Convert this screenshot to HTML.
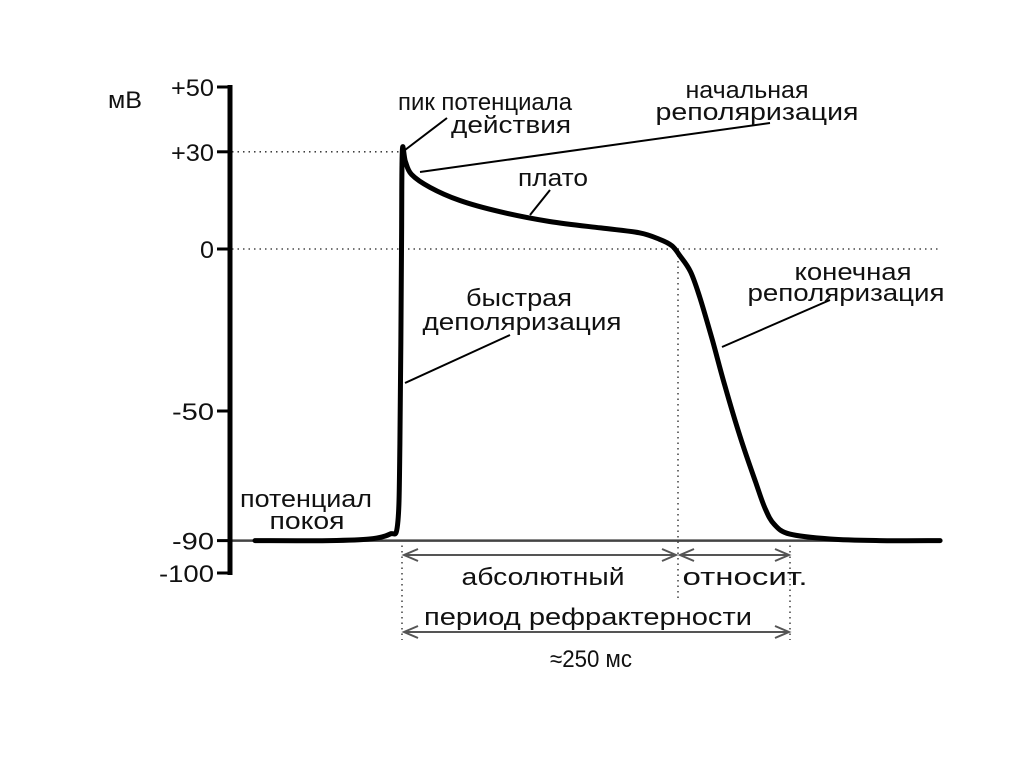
<!DOCTYPE html>
<html><head><meta charset="utf-8"><style>
html,body{margin:0;padding:0;background:#fff;}
svg{display:block;font-family:"Liberation Sans","DejaVu Sans",sans-serif;}
</style></head><body>
<svg id="chart" width="1024" height="767" viewBox="0 0 1024 767">
</svg>
<script>
const timeMs=[0,48,74,87,92,93.5,94.5,95,97,101,113,132,158,190,223,248,261,269,274,281,287,295,303,313,323,329,335,345,371,403,442];
const voltageMv=[-90,-90,-89.5,-88,-85,-60,0,30,27,23,19,15,11.5,8.5,6.5,5,3,1,-2,-7,-15,-28,-42,-58,-72,-80,-85,-88,-89.5,-90,-90];
const tickValues=[50,30,0,-50,-90,-100];
const tickLabels=["+50","+30","0","-50","-90","-100"];
const NS="http://www.w3.org/2000/svg";
const svg=document.getElementById('chart');
function yS(v){return 249-v*3.24;}
function xS(t){return 255+t*1.55;}
function el(tag,attrs,parent){const e=document.createElementNS(NS,tag);for(const k in attrs)e.setAttribute(k,attrs[k]);(parent||svg).appendChild(e);return e;}
function txt(s,x,y,anchor,name,size,w){const t=el('text',{x:x,y:y,'text-anchor':anchor||'middle','font-size':size||24,fill:'#111'});t.textContent=s;
if(w){t.setAttribute('textLength',w);t.setAttribute('lengthAdjust','spacingAndGlyphs');}


return t;}
const dots=[[232,yS(30),402,yS(30)],[232,yS(0),940,yS(0)],[402,540,402,640],[678,250,678,600],[790,540,790,640]];
dots.forEach(d=>{const l=el('line',{x1:d[0],y1:d[1],x2:d[2],y2:d[3],stroke:'#222','stroke-width':1.3,'stroke-dasharray':'1.5 4'});

});
const bl=el('line',{x1:230,y1:yS(-90),x2:942,y2:yS(-90),stroke:'#444','stroke-width':2.5});


const ax=el('line',{x1:230,y1:yS(50)-2,x2:230,y2:yS(-100)+2,stroke:'#000','stroke-width':5});


const tickW=[43,43,14,42,42,55];
tickValues.forEach((v,i)=>{const tk=el('line',{x1:217,y1:yS(v),x2:231,y2:yS(v),stroke:'#000','stroke-width':3});


txt(tickLabels[i],214,yS(v)+9,'end','y-tick-label',24,tickW[i]);});
txt('мВ',108,108,'start','y-axis-title',24,34);
const P=timeMs.map((t,i)=>[xS(t),yS(voltageMv[i])]);
let d='M'+P[0][0].toFixed(1)+','+P[0][1].toFixed(1);
for(let i=0;i<P.length-1;i++){const p0=P[i-1]||P[i],p1=P[i],p2=P[i+1],p3=P[i+2]||P[i+1];
const k=1/6;
const c1=[p1[0]+(p2[0]-p0[0])*k,p1[1]+(p2[1]-p0[1])*k];
const c2=[p2[0]-(p3[0]-p1[0])*k,p2[1]-(p3[1]-p1[1])*k];
d+=' C'+c1[0].toFixed(1)+','+c1[1].toFixed(1)+' '+c2[0].toFixed(1)+','+c2[1].toFixed(1)+' '+p2[0].toFixed(1)+','+p2[1].toFixed(1);}
const c=el('path',{d:d,fill:'none',stroke:'#000','stroke-width':5,'stroke-linejoin':'round','stroke-linecap':'round'});


const leaders=[[405,150,447,118],[420,172,770,123],[530,215,550,190],[405,383,510,335],[722,347,830,300]];
leaders.forEach(q=>{const l=el('line',{x1:q[0],y1:q[1],x2:q[2],y2:q[3],stroke:'#000','stroke-width':2});

});
function arrow(x1,x2,y,name){const g=el('g',{stroke:'#555','stroke-width':2,fill:'none'});


el('line',{x1:x1,y1:y,x2:x2,y2:y},g);
el('polyline',{points:(x1+14)+','+(y-6)+' '+x1+','+y+' '+(x1+14)+','+(y+6)},g);
el('polyline',{points:(x2-14)+','+(y-6)+' '+x2+','+y+' '+(x2-14)+','+(y+6)},g);}
arrow(404,676,555,'absolute-arrow');
arrow(680,789,555,'relative-arrow');
arrow(404,789,632,'refractory-arrow');
txt('пик потенциала',485,110,'middle','peak-label',24,174);
txt('действия',511,133,'middle','peak-label-2',24,120);
txt('начальная',747,98,'middle','initial-repol-label',24,123);
txt('реполяризация',757,120,'middle','initial-repol-label-2',24,203);
txt('плато',553,186,'middle','plateau-label',24,70);
txt('быстрая',519,306,'middle','fast-depol-label',24,106);
txt('деполяризация',522,330,'middle','fast-depol-label-2',24,199);
txt('конечная',853,280,'middle','final-repol-label',24,117);
txt('реполяризация',846,301,'middle','final-repol-label-2',24,197);
txt('потенциал',306,507,'middle','resting-label',24,132);
txt('покоя',307,529,'middle','resting-label-2',24,75);
txt('абсолютный',543,585,'middle','absolute-label',24,163);
txt('относит.',745,585,'middle','relative-label',24,125);
txt('период рефрактерности',588,625,'middle','refractory-label',24,328);
txt('≈250 мс',591,667,'middle','duration-label',24,82);
</script>
</body></html>
